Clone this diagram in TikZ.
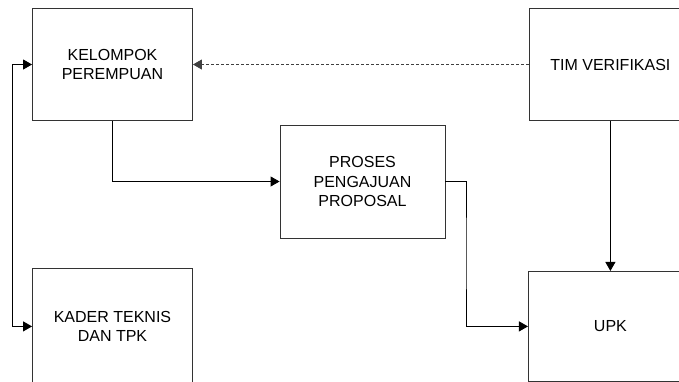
\documentclass[tikz,border=0pt]{standalone}
\usepackage{fontspec}
\setmainfont{Liberation Sans}
\usetikzlibrary{arrows.meta,positioning}
\tikzset{
  blockbox/.style={
    draw=black!80,
    line width=0.9pt,
    align=center,
    minimum width=160pt,
    minimum height=112pt,
    inner sep=4pt,
    font=\fontsize{16}{19.5}\selectfont
  },
  flowarrow/.style={
    -{Triangle[length=9pt,width=10pt]},
    line width=0.9pt
  },
  checkarrow/.style={
    flowarrow,
    draw=black!75,
    dash pattern=on 3pt off 2pt
  },
  returnarrow/.style={
    {Triangle[length=9pt,width=10pt]}-{Triangle[length=9pt,width=10pt]},
    line width=0.9pt
  }
}

\begin{document}
\begin{tikzpicture}[x=1pt,y=-1pt]
  \useasboundingbox (0,0) rectangle (679,381);
  \clip (0,0) rectangle (679,381);

  \node[blockbox] (kelompok) at (112.5,64.5) {KELOMPOK\\PEREMPUAN};
  \node[blockbox, minimum width=162pt, right=336pt of kelompok] (tim) {TIM VERIFIKASI};
  \node[blockbox, minimum width=165pt, minimum height=113pt] (proses) at (362.5,181.5) {PROSES\\PENGAJUAN\\PROPOSAL};
  \node[blockbox, minimum height=116pt, below=147pt of kelompok] (kader) {KADER TEKNIS\\DAN TPK};
  \node[blockbox, minimum width=164pt, minimum height=110pt, below=150pt of tim] (upk) {UPK};

  \coordinate (split) at (466,253);
  \coordinate (loop) at (12.5,195);

  \draw[checkarrow] (tim.west) -- (kelompok.east);
  \draw[flowarrow] (kelompok.south) |- (proses.west);
  \draw[flowarrow] (proses.east) -| (split) |- (upk.west);
  \draw[flowarrow] (tim.south) -- (upk.north);
  \draw[returnarrow] (kelompok.west) -| (loop) |- (kader.west);
\end{tikzpicture}
\end{document}
